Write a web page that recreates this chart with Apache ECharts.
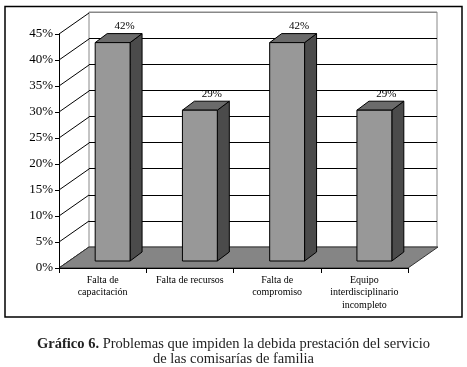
<!DOCTYPE html>
<html>
<head>
<meta charset="utf-8">
<script src="https://cdn.jsdelivr.net/npm/echarts@6/dist/echarts.min.js"></script>
<style>
  html, body { margin: 0; padding: 0; background: #fff; }
  #chart { width: 467px; height: 367px; }
</style>
</head>
<body>
<div id="chart"></div>
<script>
// datos del gráfico
const categories = [
  'Falta de\ncapacitación',
  'Falta de recursos',
  'Falta de\ncompromiso',
  'Equipo\ninterdisciplinario\nincompleto',
]
const values = [42, 29, 42, 29]
const yMin = 0
const yMax = 45
const yStep = 5

const FONT = 'Liberation Serif'
// profundidad del "3D" en píxeles
const DEPTH = [30, -21]
const BAR_FRONT = [10, -7]
const BAR_DEPTH = [12, -9]

const chart = echarts.init(document.getElementById('chart'))

// paredes y piso
function renderWalls(params, api) {
  const n = categories.length
  const band = api.size([1, 0])[0]
  const x0 = api.coord([0, yMin])[0] - band / 2
  const x1 = api.coord([n - 1, yMin])[0] + band / 2
  const children = []
  for (let v = yMin; v <= yMax; v += yStep) {
    const y = api.coord([0, v])[1]
    children.push({
      type: 'line',
      shape: { x1: x0, y1: y, x2: x0 + DEPTH[0], y2: y + DEPTH[1] },
      style: { stroke: '#000', lineWidth: 1 },
    })
  }
  const y0 = api.coord([0, yMin])[1]
  children.push({
    type: 'polygon',
    shape: {
      points: [
        [x0, y0],
        [x1, y0],
        [x1 + DEPTH[0], y0 + DEPTH[1]],
        [x0 + DEPTH[0], y0 + DEPTH[1]],
      ],
    },
    style: { fill: '#858585', stroke: '#333', lineWidth: 1 },
  })
  return { type: 'group', children }
}

// barras 3D
function renderBar(params, api) {
  const band = api.size([1, 0])[0]
  const hw = band * 0.2
  const top = api.coord([api.value(0), api.value(1)])
  const base = api.coord([api.value(0), yMin])
  const cx = top[0] + BAR_FRONT[0]
  const xa = cx - hw
  const xb = cx + hw
  const yt = top[1] + BAR_FRONT[1]
  const yb = base[1] + BAR_FRONT[1]
  const dx = BAR_DEPTH[0]
  const dy = BAR_DEPTH[1]
  const stroke = { stroke: '#000', lineWidth: 1, lineJoin: 'round' }
  return {
    type: 'group',
    children: [
      {
        type: 'polygon',
        shape: { points: [[xb, yt], [xb + dx, yt + dy], [xb + dx, yb + dy], [xb, yb]] },
        style: Object.assign({ fill: '#4b4b4b' }, stroke),
      },
      {
        type: 'polygon',
        shape: { points: [[xa, yt], [xb, yt], [xb + dx, yt + dy], [xa + dx, yt + dy]] },
        style: Object.assign({ fill: '#6b6b6b' }, stroke),
      },
      {
        type: 'rect',
        shape: { x: xa, y: yt, width: xb - xa, height: yb - yt },
        style: Object.assign({ fill: '#989898' }, stroke),
      },
      {
        type: 'text',
        style: {
          x: cx + dx,
          y: yt + dy - 2,
          text: api.value(1) + '%',
          align: 'center',
          verticalAlign: 'bottom',
          fill: '#000',
          font: '11px "' + FONT + '"',
        },
      },
    ],
  }
}

// líneas de la pared del fondo: bordes grises, cuadrícula negra
const splitColors = ['#888', '#000', '#000', '#000', '#000', '#000', '#000', '#000', '#000', '#888']

const option = {
  animation: false,
  backgroundColor: '#fff',
  textStyle: { fontFamily: FONT },
  title: {
    text: '{b|Gráfico 6.} Problemas que impiden la debida prestación del servicio\nde las comisarías de familia',
    left: 'center',
    top: 332,
    textStyle: {
      fontFamily: FONT,
      fontSize: 14.5,
      fontWeight: 'normal',
      color: '#222',
      lineHeight: 15,
      rich: {
        b: { fontFamily: FONT, fontSize: 14.5, fontWeight: 'bold', color: '#222', lineHeight: 15 },
      },
    },
  },
  graphic: [
    {
      type: 'rect',
      shape: { x: 5, y: 6.5, width: 457, height: 310.5 },
      style: { fill: 'none', stroke: '#000', lineWidth: 1.5 },
      z: 100,
    },
  ],
  grid: [
    {
      // frente
      left: 59,
      top: 34,
      width: 349,
      height: 234,
      containLabel: false,
      outerBoundsMode: 'none',
    },
    {
      // pared del fondo
      left: 89,
      top: 12,
      width: 348,
      height: 235,
      containLabel: false,
      outerBoundsMode: 'none',
      show: true,
      backgroundColor: '#fff',
      borderColor: '#888',
      borderWidth: 1,
    },
  ],
  xAxis: [
    {
      type: 'category',
      gridIndex: 0,
      data: categories,
      axisLine: { show: true, lineStyle: { color: '#000', width: 1 } },
      axisTick: { show: true, length: 5, lineStyle: { color: '#000' } },
      axisLabel: {
        interval: 0,
        fontSize: 10,
        lineHeight: 12.5,
        color: '#000',
        margin: 6,
        fontFamily: FONT,
      },
      z: 10,
    },
    {
      type: 'category',
      gridIndex: 1,
      data: categories,
      show: false,
    },
  ],
  yAxis: [
    {
      type: 'value',
      gridIndex: 0,
      min: yMin,
      max: yMax,
      interval: yStep,
      axisLine: { show: true, lineStyle: { color: '#000', width: 1 } },
      axisTick: { show: true, length: 4, lineStyle: { color: '#000' } },
      axisLabel: {
        formatter: '{value}%',
        fontSize: 13,
        color: '#000',
        margin: 6,
        fontFamily: FONT,
      },
      splitLine: { show: false },
      z: 10,
    },
    {
      type: 'value',
      gridIndex: 1,
      min: yMin,
      max: yMax,
      interval: yStep,
      axisLine: { show: false },
      axisTick: { show: false },
      axisLabel: { show: false },
      splitLine: { show: true, lineStyle: { color: splitColors, width: 1 } },
    },
  ],
  series: [
    {
      type: 'custom',
      xAxisIndex: 0,
      yAxisIndex: 0,
      renderItem: renderWalls,
      data: [[0, yMin]],
      silent: true,
      z: 1,
    },
    {
      type: 'custom',
      xAxisIndex: 0,
      yAxisIndex: 0,
      renderItem: renderBar,
      data: values.map((v, i) => [i, v]),
      z: 2,
    },
  ],
}

chart.setOption(option)
</script>
</body>
</html>
